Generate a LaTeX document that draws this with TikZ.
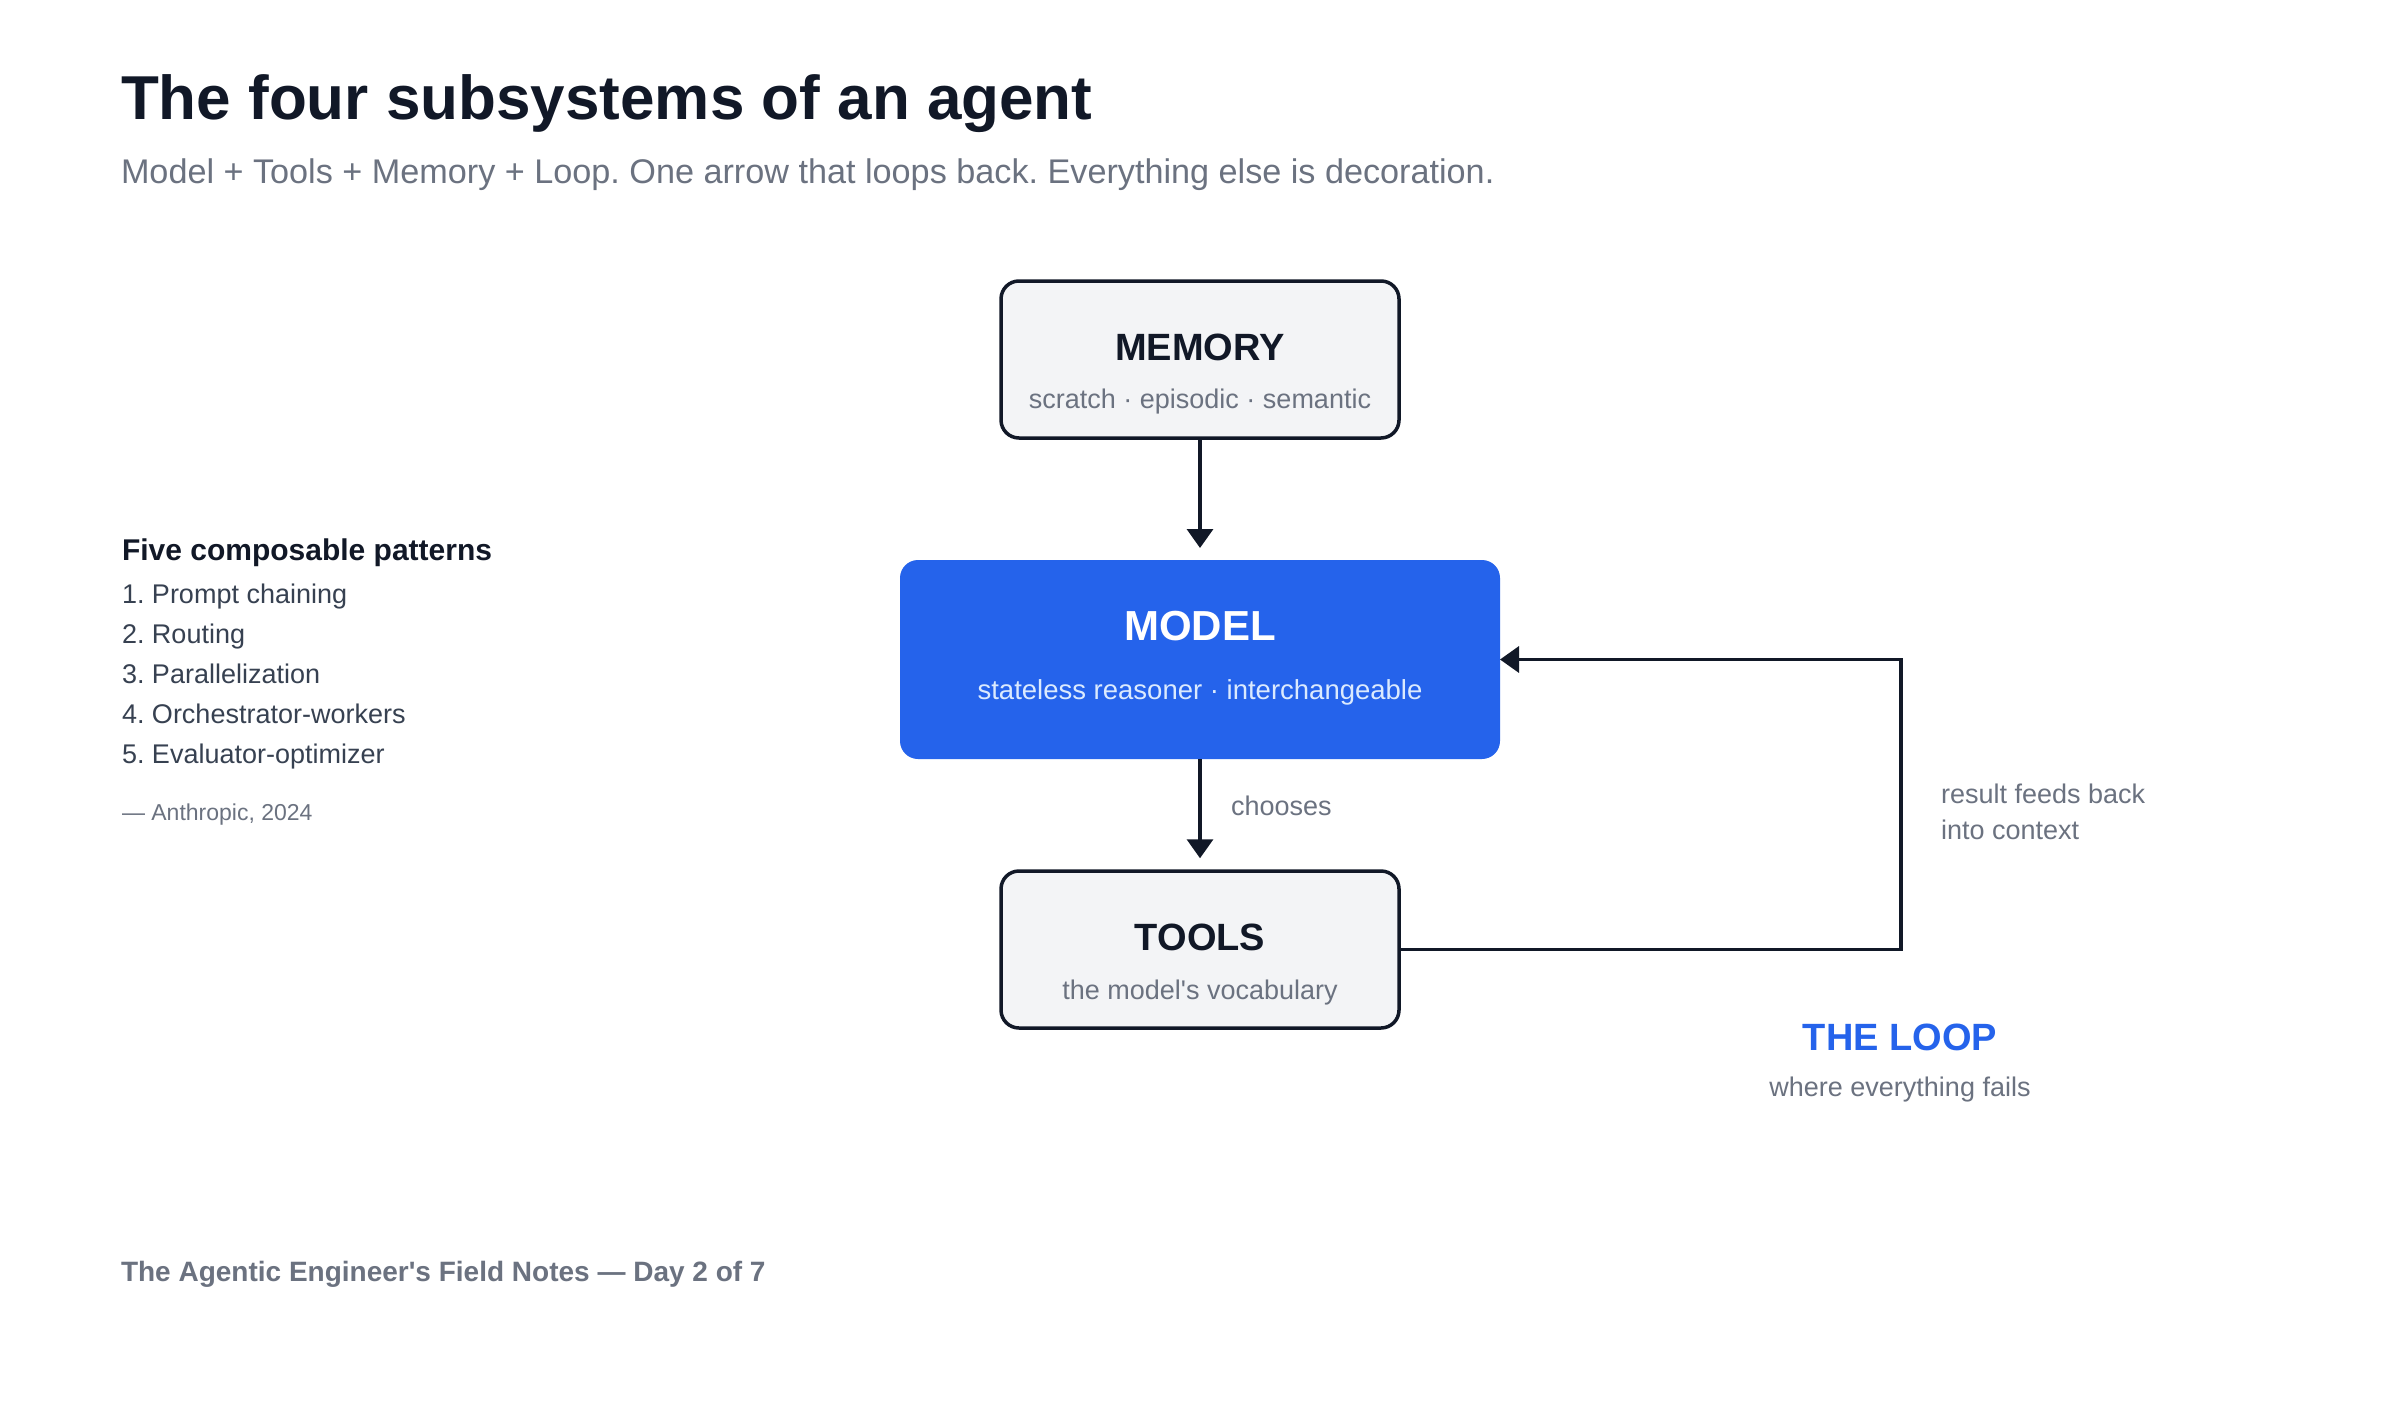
\documentclass[tikz,border=0pt]{standalone}
\usepackage{fontspec}
\setmainfont{Liberation Sans}
\usetikzlibrary{arrows.meta}
\definecolor{ink}{HTML}{111827}
\definecolor{muted}{HTML}{6B7280}
\definecolor{listc}{HTML}{374151}
\definecolor{brand}{HTML}{2563EB}
\definecolor{boxfill}{HTML}{F3F4F6}
\definecolor{lightsub}{HTML}{DBEAFE}
\newcommand{\fsz}[1]{\fontsize{#1}{#1}\selectfont}
\frenchspacing
\begin{document}
\begin{tikzpicture}[x=1pt,y=-1pt,
  txt/.style={inner sep=0pt, outer sep=0pt},
  greybox/.style={draw=ink, line width=3.5pt, fill=boxfill, rounded corners=18pt,
    minimum width=398pt, minimum height=157pt, inner sep=0pt},
  bluebox/.style={fill=brand, rounded corners=18pt, minimum width=600pt,
    minimum height=199pt, inner sep=0pt, outer sep=0pt},
  conn/.style={draw=ink, line width=3.5pt, -{Triangle[length=19pt,width=26pt]}},
  boxtitle/.style={txt, anchor=base, font=\fsz{38}\bfseries, text=ink},
  boxsub/.style={txt, anchor=base, font=\fsz{27}, text=muted},
  listitem/.style={txt, anchor=base west, font=\fsz{27}, text=listc}]
\useasboundingbox[fill=white] (0,0) rectangle (2400,1410);

% header
\node[txt, anchor=base west, font=\fsz{62}\bfseries, text=ink] (title) at (121,120) {The four subsystems of an agent};
\node[txt, anchor=base west, font=\fsz{34.2}, text=muted] (subtitle) at (121,183) {Model + Tools + Memory + Loop. One arrow that loops back. Everything else is decoration.};

% boxes
\node[greybox] (memory) at (1200,359.5) {};
\node[bluebox] (model) at (1200,659.5) {};
\node[greybox] (tools) at (1200,949.5) {};

\node[boxtitle] (memt) at (1200,360) {MEMORY};
\node[boxsub] (mems) at (1200,408) {scratch · episodic · semantic};
\node[boxtitle, font=\fsz{42}\bfseries, text=white] (modt) at (1200,640) {MODEL};
\node[boxsub, font=\fsz{27.5}, text=lightsub] (mods) at (1200,699) {stateless reasoner · interchangeable};
\node[boxtitle] (toolt) at (1200,950) {TOOLS};
\node[boxsub] (tools2) at (1200,999) {the model\textquotesingle s vocabulary};

% connectors
\draw[conn, shorten >=12pt] (memory.south) -- (model.north);
\draw[conn, shorten >=11pt] (model.south) -- (tools.north);
\node[txt, anchor=base west, font=\fsz{27}, text=muted] (chooses) at (1231,815) {chooses};
\coordinate (loopc) at (1901,949.5);
\draw[conn] (tools.east) -- (loopc) |- (model.east);

\node[txt, anchor=base west, font=\fsz{27}, text=muted] (res1) at (1941,803) {result feeds back};
\node[txt, anchor=base west, font=\fsz{27}, text=muted] (res2) at (1941,839) {into context};

\node[txt, anchor=base, font=\fsz{38}\bfseries, text=brand] (loopt) at (1900,1050) {THE LOOP};
\node[txt, anchor=base, font=\fsz{27}, text=muted] (loops) at (1900,1096) {where everything fails};

% left panel
\node[txt, anchor=base west, font=\fsz{30}\bfseries, text=ink] (pat) at (122,560) {Five composable patterns};
\node[listitem] (p1) at (122,603) {1. Prompt chaining};
\node[listitem] (p2) at (122,643) {2. Routing};
\node[listitem] (p3) at (122,683) {3. Parallelization};
\node[listitem] (p4) at (122,723) {4. Orchestrator-workers};
\node[listitem] (p5) at (122,763) {5. Evaluator-optimizer};
\node[txt, anchor=base west, font=\fsz{23}, text=muted] (cite) at (122,820) {— Anthropic, 2024};

% footer
\node[txt, anchor=base west, font=\fsz{28}\bfseries, text=muted] (footer) at (121,1281) {The Agentic Engineer\textquotesingle s Field Notes — Day 2 of 7};
\end{tikzpicture}
\end{document}
